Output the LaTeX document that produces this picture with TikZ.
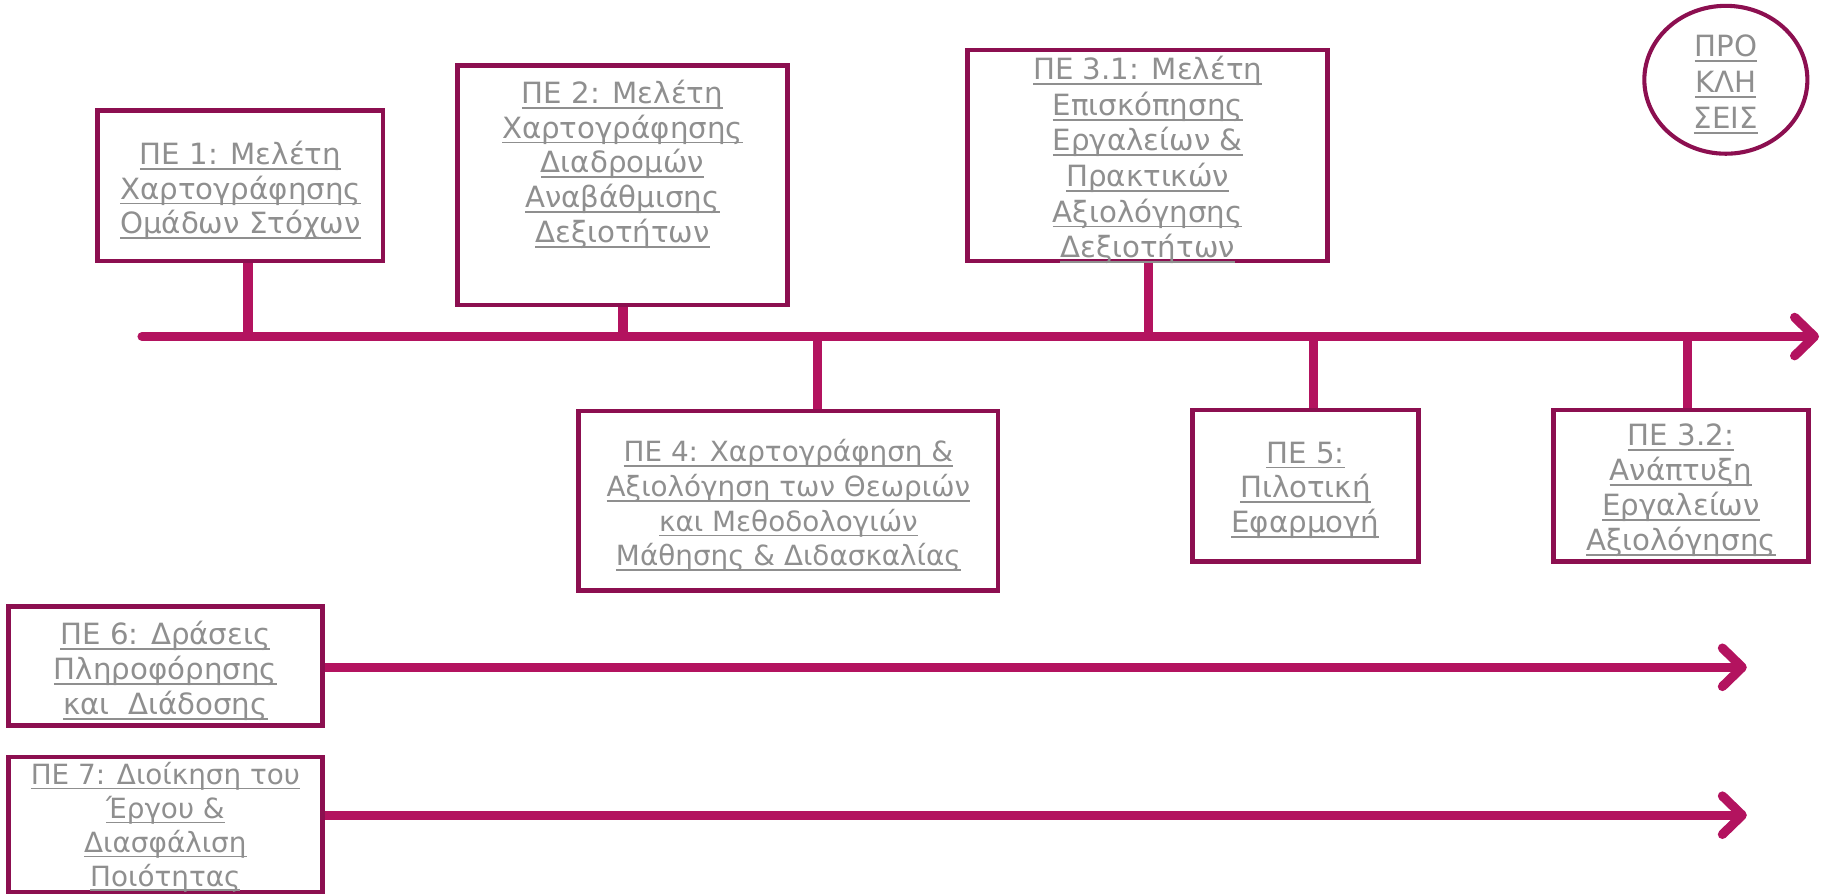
\documentclass[tikz,border=0pt]{standalone}
\usepackage{fontspec}
\setmainfont{DejaVu Sans}
\usetikzlibrary{arrows.meta,fit,shapes.geometric}

\definecolor{wpframe}{HTML}{8C0F50}
\definecolor{wpline}{HTML}{B3135F}
\definecolor{wpgray}{HTML}{8F8F8F}

\newcommand\ul[1]{\leavevmode\setbox0\hbox{#1}\rlap{\rule[-2.6pt]{\wd0}{0.9pt}}\box0}

\tikzset{
  wptext/.style={text=wpgray, align=center, inner sep=0pt, yshift=-0.8mm,
    font=\fontsize{14.3pt}{17pt}\selectfont},
  wpbox/.style={draw=wpframe, line width=2.3pt, inner sep=0pt},
  link/.style={draw=wpline, line width=4.5pt},
  barb/.style={-{Straight Barb[round,length=3.4mm,width=6.6mm]}},
  timeline/.style={link, line cap=round, barb},
}

\begin{document}
\begin{tikzpicture}[x=0.2mm,y=-0.2mm]
\useasboundingbox (0,0) rectangle (1568,767);
% work packages above the time line
\node[wpbox, fit={(84,95) (329,224)}, label={[wptext]center:{\ul{ΠΕ 1: Μελέτη}\\ \ul{Χαρτογράφησης}\\ \ul{Ομάδων Στόχων}}}] (pe1) {};
\node[wpbox, fit={(393,56) (676,262)}, label={[wptext, yshift=4.4mm]center:{\ul{ΠΕ 2: Μελέτη}\\ \ul{Χαρτογράφησης}\\ \ul{Διαδρομών}\\ \ul{Αναβάθμισης}\\ \ul{Δεξιοτήτων}}}] (pe2) {};
\node[wpbox, fit={(831,43) (1140,224)}, label={[wptext, font=\fontsize{14.3pt}{17.4pt}\selectfont]center:{\ul{ΠΕ 3.1: Μελέτη}\\ \ul{Επισκόπησης}\\ \ul{Εργαλείων \&}\\ \ul{Πρακτικών}\\ \ul{Αξιολόγησης}\\ \ul{Δεξιοτήτων}}}] (pe31) {};
% work packages below the time line
\node[wpbox, fit={(497,353) (857,507)}, label={[wptext, font=\fontsize{13.6pt}{17pt}\selectfont]center:{\ul{ΠΕ 4: Χαρτογράφηση \&}\\ \ul{Αξιολόγηση των Θεωριών}\\ \ul{και Μεθοδολογιών}\\ \ul{Μάθησης \& Διδασκαλίας}}}] (pe4) {};
\node[wpbox, fit={(1024,352) (1218,482)}, label={[wptext]center:{\ul{ΠΕ 5:}\\ \ul{Πιλοτική}\\ \ul{Εφαρμογή}}}] (pe5) {};
\node[wpbox, fit={(1334,352) (1553,482)}, label={[wptext]center:{\ul{ΠΕ 3.2:}\\ \ul{Ανάπτυξη}\\ \ul{Εργαλείων}\\ \ul{Αξιολόγησης}}}] (pe32) {};
% horizontal work packages
\node[wpbox, fit={(7,521) (277,623)}, label={[wptext]center:{\ul{ΠΕ 6: Δράσεις}\\ \ul{Πληροφόρησης}\\ \ul{και\ \ Διάδοσης}}}] (pe6) {};
\node[wpbox, fit={(7,650) (277,766)}, label={[wptext, yshift=0.4mm, font=\fontsize{13.6pt}{16.6pt}\selectfont]center:{\ul{ΠΕ 7: Διοίκηση του}\\ \ul{Έργου \&}\\ \ul{Διασφάλιση}\\ \ul{Ποιότητας}}}] (pe7) {};
\node[wpbox, line width=2pt, ellipse, minimum width=28mm, minimum height=25.4mm,
  label={[wptext, font=\fontsize{14.3pt}{17.6pt}\selectfont]center:{\ul{ΠΡΟ}\\ \ul{ΚΛΗ}\\ \ul{ΣΕΙΣ}}}] (prokl) at (1482,68.5) {};

\coordinate (tl0) at (122,289);
\coordinate (tl1) at (1562,289);
\draw[timeline] (tl0) -- (tl1);
\foreach \x/\wp in {213/pe1, 535/pe2, 986/pe31}
  \draw[link] (\x,289) -- (\x,289 |- \wp.south);
\foreach \x/\wp in {702/pe4, 1128/pe5, 1449/pe32}
  \draw[link] (\x,289) -- (\x,289 |- \wp.north);

\coordinate (f6) at (1500,573);
\coordinate (f7) at (1500,700);
\draw[link, barb] (f6 -| pe6.east) -- (f6);
\draw[link, barb] (f7 -| pe7.east) -- (f7);
\end{tikzpicture}
\end{document}
